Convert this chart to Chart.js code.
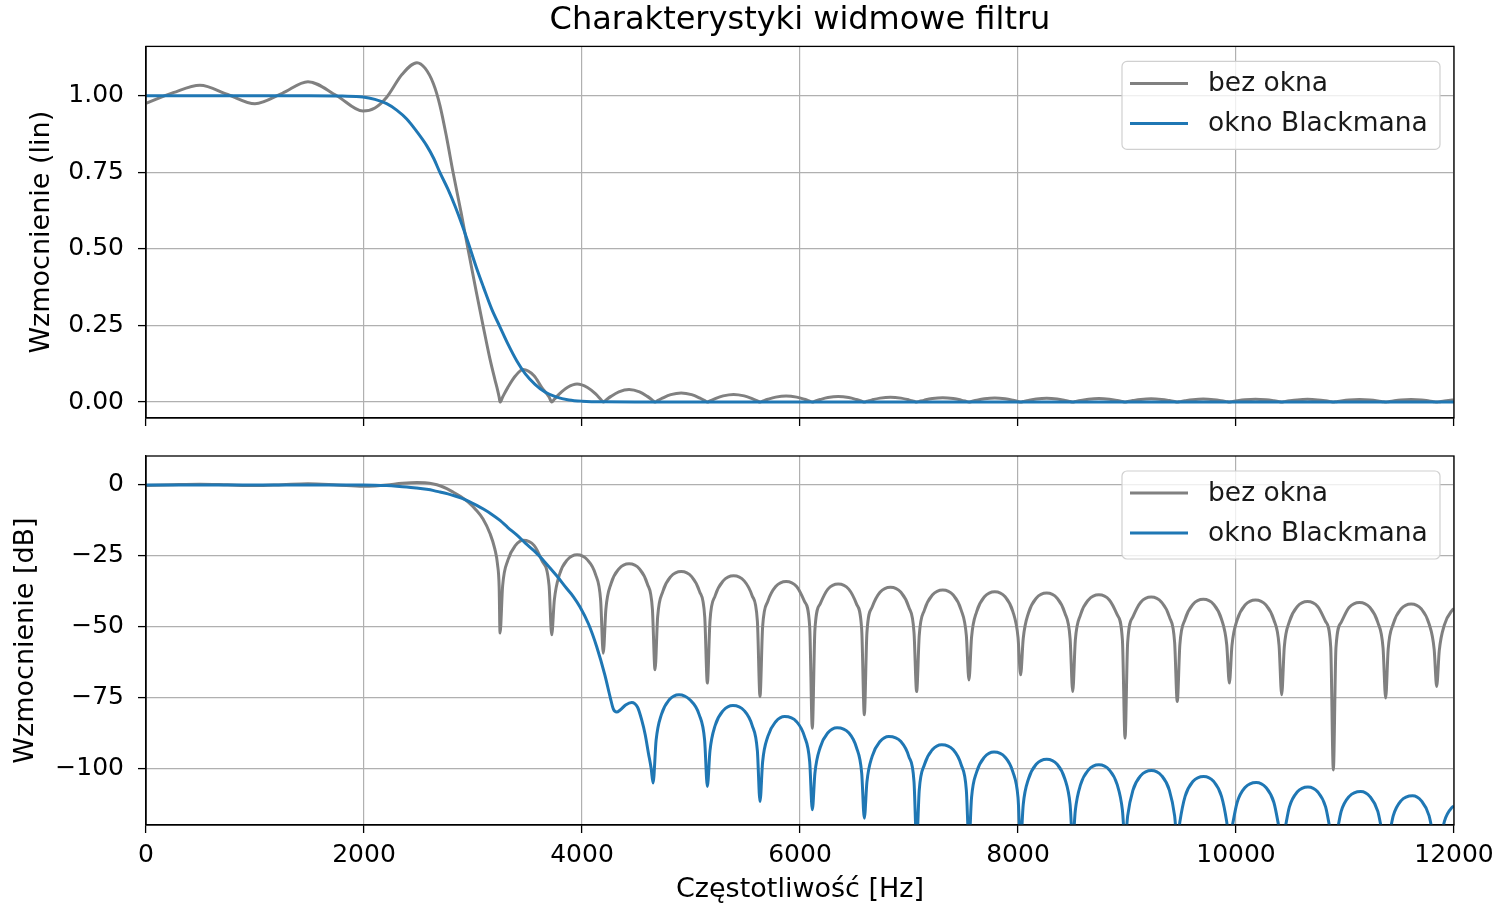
<!DOCTYPE html>
<html>
<head>
<meta charset="utf-8">
<title>Charakterystyki widmowe filtru</title>
<script src="https://cdn.jsdelivr.net/npm/chart.js"></script>
<style>
    body { margin: 0; background: #ffffff; }
    #wrap { position: relative; width: 1505px; height: 909px; }
    canvas { position: absolute; left: 0; }
    #linChart { top: 0; }
    #dbChart { top: 427px; }
</style>
</head>
<body>
<div id="wrap">
    <canvas id="linChart" width="1505" height="447"></canvas>
    <canvas id="dbChart" width="1505" height="482"></canvas>
</div>
<script>
// Frequencies [Hz] sampled for the "bez okna" curve (shared by both plots)
const bezOknaF = [
    0, 250, 495, 750, 1000, 1250, 1486, 1750, 1990, 2100,
    2208, 2350, 2486, 2560, 2636, 2697, 2760, 2817, 2890, 2954,
    3030, 3092, 3156, 3200, 3225, 3240, 3248,
    3272, 3320, 3390, 3460, 3560, 3630, 3698, 3722,
    3746, 3793, 3865, 3955, 4050, 4125, 4171, 4195,
    4219, 4266, 4338, 4432, 4528, 4599, 4646, 4670,
    4694, 4742, 4814, 4910, 5006, 5078, 5126, 5150,
    5174, 5222, 5295, 5391, 5488, 5561, 5609, 5633,
    5657, 5705, 5777, 5873, 5969, 6041, 6089, 6113,
    6137, 6185, 6256, 6351, 6447, 6518, 6566, 6590,
    6614, 6662, 6734, 6830, 6926, 6998, 7046, 7070,
    7094, 7142, 7214, 7310, 7406, 7478, 7526, 7550,
    7574, 7621, 7692, 7787, 7882, 7953, 8000, 8024,
    8048, 8096, 8167, 8263, 8359, 8430, 8478, 8502,
    8526, 8574, 8646, 8742, 8838, 8910, 8958, 8982,
    9006, 9054, 9126, 9222, 9317, 9389, 9437, 9461,
    9485, 9533, 9604, 9700, 9796, 9867, 9915, 9939,
    9963, 10011, 10083, 10179, 10275, 10347, 10395, 10419,
    10443, 10490, 10561, 10656, 10751, 10822, 10869, 10893,
    10917, 10965, 11037, 11133, 11229, 11301, 11349, 11373,
    11396, 11443, 11513, 11607, 11701, 11771, 11818, 11841,
    11865, 11912, 11984, 12000
];

// "bez okna" gain, linear
const bezOknaLin = [
    0.975, 1.01, 1.034, 1.004, 0.974, 1.008, 1.046, 1.0, 0.95, 0.96,
    0.995, 1.07, 1.108, 1.09, 1.04, 0.968, 0.86, 0.75, 0.62, 0.50,
    0.36, 0.25, 0.14, 0.075, 0.04, 0.016, 0,
    0.0165, 0.048, 0.0858, 0.106, 0.0858, 0.048, 0.0165, 0,
    0.0092, 0.0268, 0.0477, 0.059, 0.0477, 0.0268, 0.0092, 0,
    0.0064, 0.0186, 0.0332, 0.041, 0.0332, 0.0186, 0.0064, 0,
    0.0047, 0.0136, 0.0243, 0.030, 0.0243, 0.0136, 0.0047, 0,
    0.0039, 0.0114, 0.0202, 0.025, 0.0202, 0.0114, 0.0039, 0,
    0.0031, 0.0091, 0.0162, 0.020, 0.0162, 0.0091, 0.0031, 0,
    0.0028, 0.0082, 0.0146, 0.018, 0.0146, 0.0082, 0.0028, 0,
    0.0025, 0.0073, 0.0129, 0.016, 0.0129, 0.0073, 0.0025, 0,
    0.0022, 0.0064, 0.0113, 0.014, 0.0113, 0.0064, 0.0022, 0,
    0.0020, 0.0059, 0.0105, 0.013, 0.0105, 0.0059, 0.0020, 0,
    0.0019, 0.0056, 0.0100, 0.0124, 0.0100, 0.0056, 0.0019, 0,
    0.0018, 0.0053, 0.0094, 0.0116, 0.0094, 0.0053, 0.0018, 0,
    0.0017, 0.0048, 0.0086, 0.0106, 0.0086, 0.0048, 0.0017, 0,
    0.0015, 0.0044, 0.0078, 0.0097, 0.0078, 0.0044, 0.0015, 0,
    0.0015, 0.0043, 0.0076, 0.0094, 0.0076, 0.0043, 0.0015, 0,
    0.0014, 0.0040, 0.0071, 0.0088, 0.0071, 0.0040, 0.0014, 0,
    0.0013, 0.0039, 0.0069, 0.0085, 0.0069, 0.0039, 0.0013, 0,
    0.0012, 0.0036, 0.0065, 0.0080, 0.0065, 0.0036, 0.0012, 0,
    0.0012, 0.0036, 0.0064, 0.0068
];

// "bez okna" gain in dB
const bezOknaDb = [
    -0.22, 0.09, 0.29, 0.03, -0.23, 0.07, 0.39, 0.0, -0.45, -0.35,
    -0.04, 0.59, 0.89, 0.75, 0.34, -0.28, -1.31, -2.5, -4.15, -6.0,
    -8.9, -12.0, -17.1, -22.5, -28, -36, -52.2,
    -35.5, -26.5, -21.3, -19.5, -21.3, -26.5, -35.5, -52.8,
    -40.6, -31.6, -26.4, -24.6, -26.4, -31.6, -40.6, -59.3,
    -43.8, -34.8, -29.6, -27.8, -29.6, -34.8, -43.8, -65.1,
    -46.5, -37.5, -32.3, -30.5, -32.3, -37.5, -46.5, -69.8,
    -48.0, -39.0, -33.8, -32.0, -33.8, -39.0, -48.0, -74.5,
    -50.0, -41.0, -35.8, -34.0, -35.8, -41.0, -50.0, -85.7,
    -50.9, -41.9, -36.7, -34.9, -36.7, -41.9, -50.9, -81.0,
    -52.0, -43.0, -37.8, -36.0, -37.8, -43.0, -52.0, -72.8,
    -53.0, -44.0, -38.8, -37.0, -38.8, -44.0, -53.0, -68.7,
    -53.6, -44.6, -39.4, -37.6, -39.4, -44.6, -53.6, -66.9,
    -54.1, -45.1, -39.9, -38.1, -39.9, -45.1, -54.1, -72.8,
    -54.7, -45.7, -40.5, -38.7, -40.5, -45.7, -54.7, -89.2,
    -55.5, -46.5, -41.3, -39.5, -41.3, -46.5, -55.5, -76.3,
    -56.3, -47.3, -42.1, -40.3, -42.1, -47.3, -56.3, -69.8,
    -56.5, -47.5, -42.3, -40.5, -42.3, -47.5, -56.5, -73.9,
    -57.1, -48.1, -42.9, -41.1, -42.9, -48.1, -57.1, -100.4,
    -57.4, -48.4, -43.2, -41.4, -43.2, -48.4, -57.4, -75.1,
    -57.9, -48.9, -43.7, -41.9, -43.7, -48.9, -57.9, -71.0,
    -58.3, -49.3, -44.1, -43.6
];

// "okno Blackmana" gain, linear
const blackmanLinF = [
    0, 1000, 1500, 1800, 1990, 2100, 2208, 2300, 2392, 2480,
    2575, 2640, 2697, 2770, 2835, 2900, 2957, 3030, 3095, 3170,
    3248, 3320, 3401, 3480, 3569, 3660, 3768, 3880, 4000, 4200,
    4600, 6000, 8000, 10000, 12000
];
const blackmanLin = [
    1.0, 1.0, 1.0, 0.999, 0.996, 0.988, 0.974, 0.953, 0.924, 0.885,
    0.837, 0.795, 0.749, 0.695, 0.64, 0.578, 0.519, 0.44, 0.376, 0.305,
    0.245, 0.19, 0.135, 0.092, 0.058, 0.033, 0.016, 0.007, 0.003, 0.0008,
    0.0002, 0.00005, 0.00002, 0.00001, 0.000005
];

// "okno Blackmana" gain in dB
const blackmanDbF = [
    0, 1000, 1500, 1800, 1990, 2100, 2208, 2300, 2392, 2480,
    2575, 2640, 2697, 2770, 2835, 2900, 2957, 3030, 3095, 3170,
    3248, 3320, 3401, 3480, 3569, 3660, 3768, 3860, 3920, 3982,
    4060, 4135, 4210, 4260, 4288, 4318, 4350, 4400, 4456, 4510,
    4547, 4580, 4609, 4635, 4652,
    4680, 4728, 4800, 4890, 4990, 5075, 5125, 5150,
    5174, 5222, 5295, 5385, 5488, 5561, 5609, 5633,
    5657, 5705, 5777, 5860, 5969, 6041, 6089, 6113,
    6137, 6185, 6256, 6340, 6447, 6518, 6566, 6590,
    6614, 6662, 6734, 6815, 6926, 6998, 7046, 7070,
    7094, 7142, 7214, 7300, 7406, 7478, 7526, 7550,
    7574, 7621, 7692, 7780, 7882, 7953, 8000, 8024,
    8048, 8096, 8167, 8263, 8359, 8430, 8478, 8502,
    8526, 8574, 8646, 8742, 8838, 8910, 8958, 8982,
    9006, 9054, 9126, 9224, 9317, 9389, 9437, 9461,
    9485, 9533, 9604, 9703, 9796, 9867, 9915, 9939,
    9963, 10011, 10083, 10185, 10275, 10347, 10395, 10419,
    10443, 10490, 10561, 10660, 10751, 10822, 10869, 10893,
    10917, 10965, 11037, 11145, 11229, 11301, 11349, 11373,
    11396, 11443, 11513, 11620, 11701, 11771, 11818, 11841,
    11865, 11912, 11984, 12000
];
const blackmanDb = [
    0, 0, 0, -0.01, -0.04, -0.1, -0.23, -0.42, -0.68, -1.06,
    -1.55, -2.0, -2.5, -3.16, -3.9, -4.76, -5.7, -7.1, -8.5, -10.3,
    -12.5, -15.0, -17.6, -20.5, -23.5, -27.2, -32.0, -36.5, -39.3, -43,
    -49, -57, -67, -75, -79, -80, -79.3, -77.5, -76.6, -78.3,
    -82.7, -88, -94.4, -100, -105,
    -89.9, -80.9, -75.7, -73.9, -75.7, -80.9, -89.9, -106.2,
    -93.7, -84.7, -79.5, -77.7, -79.5, -84.7, -93.7, -111.5,
    -97.6, -88.6, -83.4, -81.6, -83.4, -88.6, -97.6, -114.4,
    -101.5, -92.5, -87.3, -85.5, -87.3, -92.5, -101.5, -117.4,
    -104.6, -95.6, -90.4, -88.6, -90.4, -95.6, -104.6, -126,
    -107.5, -98.5, -93.3, -91.5, -93.3, -98.5, -107.5, -126,
    -110.1, -101.1, -95.9, -94.1, -95.9, -101.1, -110.1, -126,
    -112.6, -103.6, -98.4, -96.6, -98.4, -103.6, -112.6, -126,
    -114.6, -105.6, -100.4, -98.6, -100.4, -105.6, -114.6, -126,
    -116.6, -107.6, -102.4, -100.6, -102.4, -107.6, -116.6, -126,
    -118.7, -109.7, -104.5, -102.7, -104.5, -109.7, -118.7, -126,
    -120.8, -111.8, -106.6, -104.8, -106.6, -111.8, -120.8, -126,
    -122.4, -113.4, -108.2, -106.4, -108.2, -113.4, -122.4, -126,
    -124, -115, -109.8, -108, -109.8, -115, -124, -128,
    -125.5, -116.5, -111.3, -109.5, -111.3, -116.5, -125.5, -130,
    -127.5, -118.5, -113.5, -113.2
];

// Tick values and labels
const freqTicks = [0, 2000, 4000, 6000, 8000, 10000, 12000];
const freqTickLabels = ['0', '2000', '4000', '6000', '8000', '10000', '12000'];
const linTicks = [0, 0.25, 0.5, 0.75, 1.0];
const linTickLabels = ['0.00', '0.25', '0.50', '0.75', '1.00'];
const dbTicks = [-100, -75, -50, -25, 0];
const dbTickLabels = ['\u2212100', '\u221275', '\u221250', '\u221225', '0'];

const seriesLabels = ['bez okna', 'okno Blackmana'];
const GRAY = '#808080';
const BLUE = '#1f77b4';
const FONT = 'DejaVu Sans';

Chart.defaults.font.family = FONT;
Chart.defaults.color = '#000000';

function toPoints(xs, ys) {
    return xs.map(function (x, i) { return { x: x, y: ys[i] }; });
}

// spines all around + matplotlib-like legend in the upper right corner
const frameLegendPlugin = {
    id: 'frameLegend',
    afterDraw: function (chart) {
        const ctx = chart.ctx;
        const a = chart.chartArea;
        ctx.save();
        ctx.strokeStyle = '#000000';
        ctx.lineWidth = 1.3;
        ctx.strokeRect(a.left, a.top, a.right - a.left, a.bottom - a.top);

        // legend box
        const w = 318, h = 88;
        const bx = a.right - 14 - w;
        const by = a.top + 15;
        ctx.beginPath();
        ctx.roundRect(bx, by, w, h, 5);
        ctx.fillStyle = 'rgba(255,255,255,0.8)';
        ctx.fill();
        ctx.strokeStyle = '#d0d0d0';
        ctx.lineWidth = 1.2;
        ctx.stroke();

        ctx.font = '26.5px "' + FONT + '"';
        ctx.textBaseline = 'middle';
        ctx.textAlign = 'left';
        const order = [1, 0]; // gray first, blue second
        order.forEach(function (dsIndex, row) {
            const ds = chart.data.datasets[dsIndex];
            const y = by + 22 + row * 40;
            ctx.beginPath();
            ctx.moveTo(bx + 8, y);
            ctx.lineTo(bx + 66, y);
            ctx.strokeStyle = ds.borderColor;
            ctx.lineWidth = 3;
            ctx.stroke();
            ctx.fillStyle = '#1a1a1a';
            ctx.fillText(ds.label, bx + 86, y + 1);
        });
        ctx.restore();
    }
};

function makeDatasets(grayPts, bluePts) {
    // blue listed first so it is drawn on top of the gray line
    return [
        {
            label: seriesLabels[1],
            data: bluePts,
            borderColor: BLUE,
            borderWidth: 3,
            pointRadius: 0,
            fill: false,
            cubicInterpolationMode: 'monotone',
            borderJoinStyle: 'round'
        },
        {
            label: seriesLabels[0],
            data: grayPts,
            borderColor: GRAY,
            borderWidth: 3,
            pointRadius: 0,
            fill: false,
            cubicInterpolationMode: 'monotone',
            borderJoinStyle: 'round'
        }
    ];
}

const gridOpts = {
    color: '#b0b0b0',
    lineWidth: 1.2,
    tickLength: 8,
    tickColor: '#000000',
    tickWidth: 1.3
};

function xScale(showLabels, height) {
    return {
        type: 'linear',
        min: 0,
        max: 12000,
        afterBuildTicks: function (axis) {
            axis.ticks = freqTicks.map(function (v) { return { value: v }; });
        },
        afterFit: function (axis) { axis.height = height; },
        ticks: {
            display: showLabels,
            font: { size: 25 },
            padding: 7,
            maxRotation: 0,
            callback: function (value) {
                const i = freqTicks.indexOf(value);
                return i >= 0 ? freqTickLabels[i] : '';
            }
        },
        grid: gridOpts,
        border: { color: '#000000', width: 1.3 },
        title: {
            display: showLabels,
            text: 'Częstotliwość [Hz]',
            font: { size: 27 },
            padding: { top: 0, bottom: 3 }
        }
    };
}

function yScale(min, max, tickVals, tickLabels, titleText, titlePad) {
    return {
        type: 'linear',
        min: min,
        max: max,
        afterBuildTicks: function (axis) {
            axis.ticks = tickVals.map(function (v) { return { value: v }; });
        },
        afterFit: function (axis) { axis.width = 146; },
        ticks: {
            font: { size: 25 },
            padding: 14,
            callback: function (value) {
                const i = tickVals.indexOf(value);
                return i >= 0 ? tickLabels[i] : '';
            }
        },
        grid: gridOpts,
        border: { color: '#000000', width: 1.3 },
        title: {
            display: true,
            text: titleText,
            font: { size: 27 },
            padding: { top: titlePad, bottom: 0 }
        }
    };
}

// Top: linear gain
new Chart(document.getElementById('linChart').getContext('2d'), {
    type: 'line',
    data: {
        datasets: makeDatasets(toPoints(bezOknaF, bezOknaLin), toPoints(blackmanLinF, blackmanLin))
    },
    options: {
        responsive: false,
        animation: false,
        events: [],
        layout: { padding: { left: 0, right: 51, top: 0, bottom: 0 } },
        plugins: {
            legend: { display: false },
            tooltip: { enabled: false },
            title: {
                display: true,
                fullSize: false,
                text: 'Charakterystyki widmowe filtru',
                font: { size: 32, weight: 'normal' },
                color: '#000000',
                padding: { top: 1, bottom: 7 }
            }
        },
        scales: {
            x: xScale(false, 23),
            y: yScale(-0.052, 1.161, linTicks, linTickLabels, 'Wzmocnienie (lin)', 26)
        }
    },
    plugins: [frameLegendPlugin]
});

// Bottom: gain in dB
new Chart(document.getElementById('dbChart').getContext('2d'), {
    type: 'line',
    data: {
        datasets: makeDatasets(toPoints(bezOknaF, bezOknaDb), toPoints(blackmanDbF, blackmanDb))
    },
    options: {
        responsive: false,
        animation: false,
        events: [],
        layout: { padding: { left: 0, right: 51, top: 0, bottom: 0 } },
        plugins: {
            legend: { display: false },
            tooltip: { enabled: false }
        },
        scales: {
            x: xScale(true, 84),
            y: yScale(-119.8, 10.2, dbTicks, dbTickLabels, 'Wzmocnienie [dB]', 10)
        }
    },
    plugins: [frameLegendPlugin]
});
</script>
</body>
</html>
